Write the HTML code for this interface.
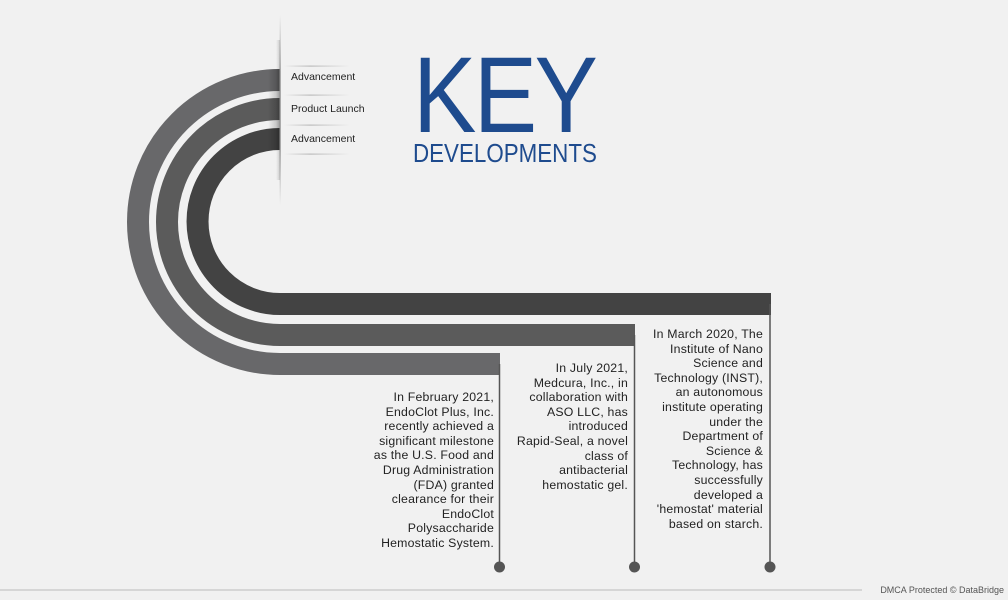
<!DOCTYPE html>
<html><head><meta charset="utf-8"><style>
body{margin:0;background:#f1f1f1;width:1008px;height:600px;overflow:hidden;position:relative;font-family:"Liberation Sans",sans-serif}
.t{position:absolute;text-align:right;font-size:12.3px;line-height:14.6px;color:#222;white-space:nowrap;letter-spacing:.2px}
.l{position:absolute;left:291px;font-size:10.5px;color:#222}
</style></head><body>
<svg width="1008" height="600" style="position:absolute;left:0;top:0">
<defs>
<linearGradient id="v" x1="0" y1="0" x2="0" y2="1"><stop offset="0" stop-color="#f1f1f1"/><stop offset=".3" stop-color="#aaa"/><stop offset=".7" stop-color="#aaa"/><stop offset="1" stop-color="#f1f1f1"/></linearGradient>
<linearGradient id="s" x1="0" x2="1"><stop offset="0" stop-color="#000" stop-opacity="0"/><stop offset="1" stop-color="#000" stop-opacity=".25"/></linearGradient>
<linearGradient id="h" x1="0" x2="1"><stop offset="0" stop-color="#f1f1f1"/><stop offset=".4" stop-color="#bbb"/><stop offset="1" stop-color="#f1f1f1"/></linearGradient>
</defs>
<path d="M280 80 A142 142 0 0 0 280 364 L500 364" fill="none" stroke="#68686a" stroke-width="22"/>
<path d="M280 109 A113 113 0 0 0 280 335 L635 335" fill="none" stroke="#5b5b5b" stroke-width="22"/>
<path d="M280 139 A82.5 82.5 0 0 0 280 304 L771 304" fill="none" stroke="#434343" stroke-width="22"/>
<rect x="268" y="69" width="12" height="81" fill="url(#s)"/>
<rect x="279.5" y="15" width="1.5" height="190" fill="url(#v)"/>
<rect x="276" y="40" width="4" height="140" fill="url(#s)" opacity=".6"/>
<rect x="284" y="65.5" width="66" height="1.2" fill="url(#h)"/>
<rect x="284" y="94.5" width="66" height="1.2" fill="url(#h)"/>
<rect x="284" y="124.5" width="66" height="1.2" fill="url(#h)"/>
<rect x="284" y="153.5" width="66" height="1.2" fill="url(#h)"/>
<g stroke="#555" stroke-width="1.5">
<line x1="499.5" y1="364" x2="499.5" y2="567"/><line x1="634.5" y1="335" x2="634.5" y2="567"/><line x1="770" y1="304" x2="770" y2="567"/></g>
<g fill="#555"><circle cx="499.5" cy="567" r="5.5"/><circle cx="634.5" cy="567" r="5.5"/><circle cx="770" cy="567" r="5.5"/></g>
<line x1="0" y1="590" x2="862" y2="590" stroke="#bbb" stroke-width="1"/>
</svg>
<div class="l" style="top:71px">Advancement</div>
<div class="l" style="top:103px">Product Launch</div>
<div class="l" style="top:133px">Advancement</div>
<div style="position:absolute;left:413px;top:40px;font-size:108px;line-height:110px;color:#1e4b8e;transform:scaleX(.88);transform-origin:left top;letter-spacing:-3px">KEY</div>
<div style="position:absolute;left:413px;top:140px;font-size:26px;line-height:26px;color:#1e4b8e;transform:scaleX(.86);transform-origin:left top">DEVELOPMENTS</div>
<div class="t" style="right:514px;top:390px">In February 2021,<br>EndoClot Plus, Inc.<br>recently achieved a<br>significant milestone<br>as the U.S. Food and<br>Drug Administration<br>(FDA) granted<br>clearance for their<br>EndoClot<br>Polysaccharide<br>Hemostatic System.</div>
<div class="t" style="right:380px;top:361px">In July 2021,<br>Medcura, Inc., in<br>collaboration with<br>ASO LLC, has<br>introduced<br>Rapid-Seal, a novel<br>class of<br>antibacterial<br>hemostatic gel.</div>
<div class="t" style="right:245px;top:327px">In March 2020, The<br>Institute of Nano<br>Science and<br>Technology (INST),<br>an autonomous<br>institute operating<br>under the<br>Department of<br>Science &amp;<br>Technology, has<br>successfully<br>developed a<br>'hemostat' material<br>based on starch.</div>
<div style="position:absolute;right:4px;top:585px;font-size:9px;color:#555">DMCA Protected © DataBridge</div>
</body></html>
